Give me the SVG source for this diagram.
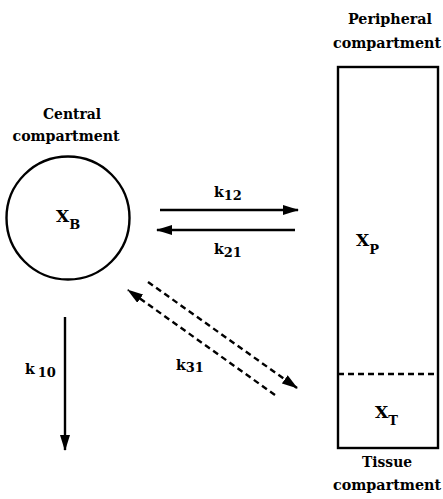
<svg xmlns="http://www.w3.org/2000/svg" width="443" height="499" viewBox="0 0 443 499">
<style>
text{font-family:"DejaVu Serif","Liberation Serif",serif;font-weight:bold;fill:#000}
.lbl{font-size:14px;text-anchor:middle}
.var{font-size:17px}
.sub{font-size:13px}
.k{font-size:14px}
.line{stroke:#000;stroke-width:2.4;fill:none}
.dash{stroke:#000;stroke-width:2.4;fill:none;stroke-dasharray:6,4}
</style>
<defs>
<marker id="ahb" viewBox="0 0 16 10" refX="15" refY="5" markerWidth="16" markerHeight="10" orient="auto" markerUnits="userSpaceOnUse">
<path d="M0,0 L16,5 L0,10 z" fill="#000"/>
</marker>
</defs>
<g id="central">
<text class="lbl" x="72" y="119" textLength="58" lengthAdjust="spacingAndGlyphs">Central</text>
<text class="lbl" x="66" y="141" textLength="107" lengthAdjust="spacingAndGlyphs">compartment</text>
<circle cx="68" cy="218" r="61.5" class="line"/>
<text class="var" x="56" y="222">X<tspan class="sub" dy="7">B</tspan></text>
</g>
<g id="peripheral">
<text class="lbl" x="390" y="24" textLength="84" lengthAdjust="spacingAndGlyphs">Peripheral</text>
<text class="lbl" x="387" y="48" textLength="108" lengthAdjust="spacingAndGlyphs">compartment</text>
<rect x="338" y="67" width="100" height="381" class="line"/>
<text class="var" x="356" y="246">X<tspan class="sub" dy="8">P</tspan></text>
</g>
<g id="tissue">
<line x1="338" y1="374" x2="438" y2="374" class="dash"/>
<text class="var" x="375" y="418">X<tspan class="sub" dy="7">T</tspan></text>
<text class="lbl" x="387" y="467" textLength="50" lengthAdjust="spacingAndGlyphs">Tissue</text>
<text class="lbl" x="387" y="490" textLength="108" lengthAdjust="spacingAndGlyphs">compartment</text>
</g>
<g id="connectors">
<line x1="160" y1="210" x2="298" y2="210" class="line" marker-end="url(#ahb)"/>
<line x1="295" y1="230" x2="157" y2="230" class="line" marker-end="url(#ahb)"/>
<line x1="148" y1="282" x2="297" y2="388" class="dash" marker-end="url(#ahb)"/>
<line x1="275" y1="395" x2="128" y2="290" class="dash" marker-end="url(#ahb)"/>
<line x1="65" y1="317" x2="65" y2="450" class="line" marker-end="url(#ahb)"/>
<text class="k" x="214" y="197">k<tspan class="sub" dy="3">12</tspan></text>
<text class="k" x="214" y="254">k<tspan class="sub" dy="3">21</tspan></text>
<text class="k" x="176" y="370">k<tspan class="sub" dy="2">31</tspan></text>
<text class="k" x="25" y="374">k<tspan class="sub" dx="3" dy="3">10</tspan></text>
</g>
</svg>
